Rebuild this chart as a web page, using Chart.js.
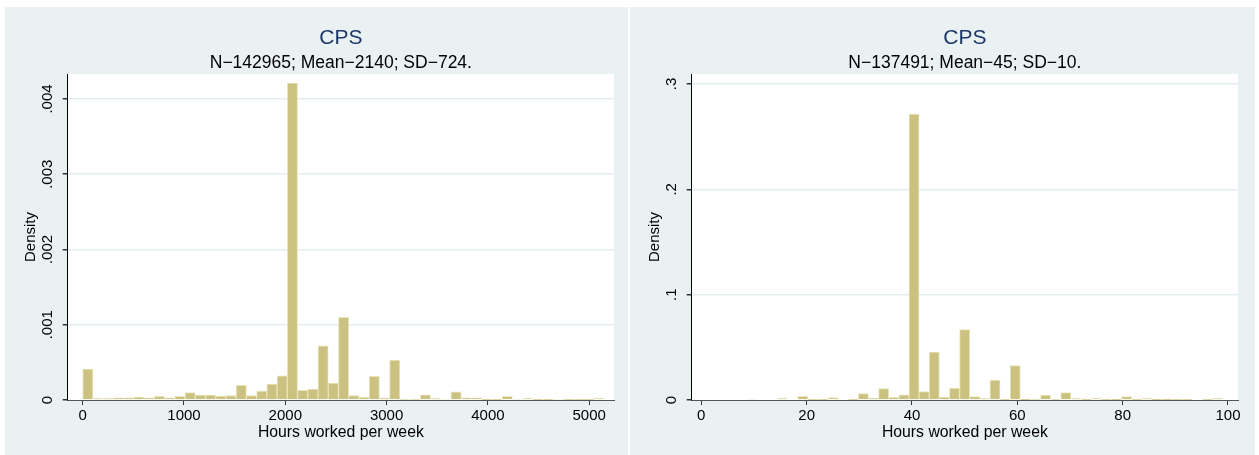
<!DOCTYPE html>
<html>
<head>
<meta charset="utf-8">
<script src="https://cdn.jsdelivr.net/npm/chart.js@4"></script>
<style>
  body { margin: 0; background: #fff; width: 1259px; height: 455px; position: relative; overflow: hidden; }
  .panel { position: absolute; top: 7px; height: 448px; background: #eaf1f3; }
  canvas { display: block; }
</style>
</head>
<body>
<div class="panel" style="left:5px;width:623px"><canvas id="annual" width="623" height="448"></canvas></div>
<div class="panel" style="left:630px;width:625px"><canvas id="weekly" width="625" height="448"></canvas></div>
<script>
// left: annual hours, 51 bins starting at 0
const annualStart = 0;
const annualWidth = 101;
const annualDensity = [
  0.00041, 0.00002, 0.00002, 0.00003, 0.00003, 0.00004, 0.00003, 0.00005, 0.00003, 0.00005,
  0.00010, 0.000066, 0.000066, 0.000053, 0.00006, 0.000195, 0.00006, 0.00012, 0.00021, 0.00032,
  0.00421, 0.000128, 0.000146, 0.00072, 0.000226, 0.0011, 0.000058, 0.000035, 0.000315, 0.000022,
  0.00053, 0.000007, 0.000007, 0.00007, 0.00002, 0.00001, 0.00011, 0.00003, 0.00003, 0.000005,
  0.000005, 0.000048, 0.00001, 0.00002, 0.000005, 0.000005, 0.00001, 0.000003, 0.000003, 0.000003,
  0.00002
];
const annualXTicks = [0, 1000, 2000, 3000, 4000, 5000];
const annualYTicks = [0, 0.001, 0.002, 0.003, 0.004];
const annualYLabels = ['0', '.001', '.002', '.003', '.004'];
const annualSubtitle = 'N\u2212142965; Mean\u22122140; SD\u2212724.';

// right: weekly hours, 51 bins from 1 to 99
const weeklyStart = 1;
const weeklyWidth = 98 / 51;
const weeklyDensity = [
  0, 0, 0, 0, 0.0007, 0, 0, 0.0013, 0, 0.0035,
  0.0002, 0.0003, 0.0022, 0, 0.0002, 0.006, 0.0016, 0.0108, 0.0025, 0.005,
  0.2715, 0.0079, 0.0455, 0.0028, 0.0114, 0.0668, 0.0032, 0.0013, 0.019, 0.0003,
  0.0326, 0.0001, 0.0005, 0.0047, 0.0005, 0.007, 0.0014, 0.0003, 0.0013, 0.0002,
  0.0001, 0.0032, 0.0003, 0.0013, 0.0001, 0.0001, 0.0003, 0.0002, 0, 0.0002,
  0.0013
];
const weeklyXTicks = [0, 20, 40, 60, 80, 100];
const weeklyYTicks = [0, 0.1, 0.2, 0.3];
const weeklyYLabels = ['0', '.1', '.2', '.3'];
const weeklySubtitle = 'N\u2212137491; Mean\u221245; SD\u221210.';

const FONT = "'Liberation Sans', Arial, sans-serif";

// white plot region + rotated y tick labels (Stata style)
const plotDecor = {
  id: 'plotDecor',
  beforeDraw(chart) {
    const a = chart.chartArea;
    const ctx = chart.ctx;
    ctx.save();
    ctx.fillStyle = '#ffffff';
    ctx.fillRect(a.left, a.top, a.right - a.left, a.bottom - a.top);
    ctx.restore();
  },
  afterDraw(chart, args, opts) {
    const y = chart.scales.y;
    const ctx = chart.ctx;
    ctx.save();
    ctx.font = '15px ' + FONT;
    ctx.fillStyle = '#000';
    ctx.textAlign = 'center';
    ctx.textBaseline = 'middle';
    opts.values.forEach((v, i) => {
      ctx.save();
      ctx.translate(opts.labelX, y.getPixelForValue(v));
      ctx.rotate(-Math.PI / 2);
      ctx.fillText(opts.labels[i], 0, 0);
      ctx.restore();
    });
    ctx.restore();
  }
};

function makeHist(id, cfg) {
  const points = cfg.density.map((d, i) => ({ x: cfg.start + (i + 0.5) * cfg.width, y: d }));
  return new Chart(document.getElementById(id), {
    type: 'bar',
    data: {
      datasets: [{
        data: points,
        backgroundColor: '#cbc282',
        borderColor: '#e9e4b9',
        borderWidth: 1,
        barPercentage: 1,
        categoryPercentage: 1
      }]
    },
    plugins: [plotDecor],
    options: {
      responsive: false,
      animation: false,
      layout: { padding: { left: 0, right: cfg.padRight, top: 0, bottom: 0 } },
      plugins: {
        legend: { display: false },
        tooltip: { enabled: false },
        title: {
          display: true,
          fullSize: false,
          text: 'CPS',
          color: '#1c3768',
          font: { family: FONT, size: 21, weight: 'normal' },
          padding: { top: 18.4, bottom: 0 }
        },
        subtitle: {
          display: true,
          fullSize: false,
          text: cfg.subtitle,
          color: '#000',
          font: { family: FONT, size: 17.5 },
          padding: { top: 1.9, bottom: 0.5 }
        },
        plotDecor: { values: cfg.yTicks, labels: cfg.yLabels, labelX: cfg.labelX }
      },
      scales: {
        x: {
          type: 'linear',
          offset: false,
          min: cfg.xMin,
          max: cfg.xMax,
          afterBuildTicks: s => { s.ticks = cfg.xTicks.map(v => ({ value: v })); },
          afterFit: s => { s.height = 55; },
          ticks: { color: '#000', font: { family: FONT, size: 15 }, padding: 2, maxRotation: 0, callback: v => String(v) },
          grid: { offset: false, drawOnChartArea: false, drawTicks: true, tickLength: 5, tickColor: '#333' },
          border: { color: '#555', width: 1 },
          title: {
            display: true,
            text: 'Hours worked per week',
            color: '#000',
            font: { family: FONT, size: 15.8 },
            padding: { top: 0, bottom: 12.5 }
          }
        },
        y: {
          min: 0,
          max: cfg.yMax,
          afterBuildTicks: s => { s.ticks = cfg.yTicks.map(v => ({ value: v })); },
          afterFit: s => { s.width = cfg.yWidth; },
          ticks: { display: false },
          grid: {
            color: c => (c.tick && c.tick.value === 0) ? 'rgba(0,0,0,0)' : '#e4edf0',
            lineWidth: 1.5,
            drawTicks: true,
            tickLength: 5,
            tickColor: '#333'
          },
          border: { color: '#000', width: 1 },
          title: {
            display: true,
            text: 'Density',
            color: '#000',
            font: { family: FONT, size: 15 },
            padding: { top: cfg.titlePad, bottom: 0 }
          }
        }
      }
    }
  });
}

makeHist('annual', {
  start: annualStart, width: annualWidth, density: annualDensity,
  xTicks: annualXTicks, yTicks: annualYTicks, yLabels: annualYLabels,
  subtitle: annualSubtitle,
  xMin: -148, xMax: 5245, yMax: 0.004332,
  yWidth: 62.7, padRight: 14, labelX: 42.7, titlePad: 17
});

makeHist('weekly', {
  start: weeklyStart, width: weeklyWidth, density: weeklyDensity,
  xTicks: weeklyXTicks, yTicks: weeklyYTicks, yLabels: weeklyYLabels,
  subtitle: weeklySubtitle,
  xMin: -1.82, xMax: 101.9, yMax: 0.3095,
  yWidth: 61.7, padRight: 17, labelX: 41.7, titlePad: 16
});
</script>
</body>
</html>
